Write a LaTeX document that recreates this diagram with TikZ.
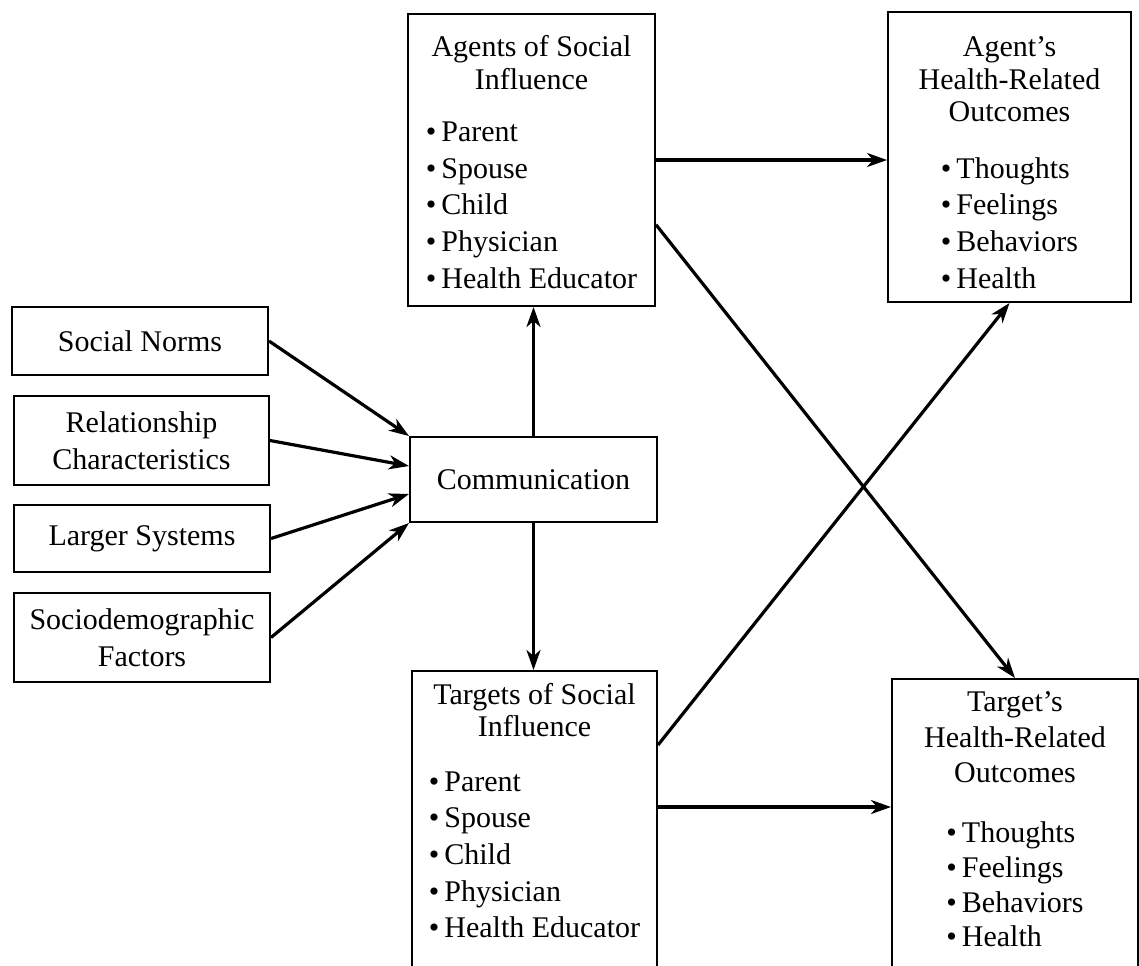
\documentclass[tikz,border=0pt]{standalone}
\usepackage{fontspec}
\setmainfont{Liberation Serif}
\usetikzlibrary{arrows.meta,calc}
\tikzset{
  box/.style={draw, line width=1pt, inner sep=0pt, align=center, font=\fontsize{15}{18.3}\selectfont},
  arr/.style={line width=1.6pt, -{Stealth[length=10pt,width=7pt,inset=3pt]}},
}
\newcommand{\itm}{\textbullet\,}
\newcommand{\ctr}[1]{\multicolumn{1}{@{}c@{}}{#1}}

\begin{document}
\begin{tikzpicture}[x=0.5pt,y=-0.5pt]
\useasboundingbox (0,0) rectangle (1139,965);
\fill[white] (0,0) rectangle (1139,965);
\clip (0,0) rectangle (1139,965);
% factors on the left
\node[box, minimum width=128pt, minimum height=34pt] (norms) at (140,341) {Social Norms};
\node[box, minimum width=127.5pt, minimum height=44.5pt] (relat) at (141.5,440.5) {Relationship\\Characteristics};
\node[box, minimum width=128pt, minimum height=33.5pt] (larger) at (142,538.5) {Larger Systems};
\node[box, minimum width=128pt, minimum height=44.5pt] (socio) at (142,637.5) {Sociodemographic\\Factors};
% communication
\node[box, minimum width=123.5pt, minimum height=42.5pt] (comm) at (533.5,479.5) {Communication};
% agents and targets
\node[box, minimum width=123.5pt, minimum height=146pt] (agents) at (531.5,160) {\begin{tabular}{@{}l@{}}
  \ctr{\rule{0pt}{17.8pt}Agents of Social}\\[-2pt] \ctr{Influence}\\[8pt]
  \itm Parent\\ \itm Spouse\\ \itm Child\\ \itm Physician\\ \itm Health Educator
\end{tabular}};
\node[box, anchor=north, minimum width=122.5pt, inner ysep=3.7pt] (targets) at (534.5,670) {\begin{tabular}{@{}l@{}}
  \ctr{Targets of Social}\\[-2pt] \ctr{Influence}\\[9pt]
  \itm Parent\\ \itm Spouse\\ \itm Child\\ \itm Physician\\ \itm Health Educator\\[30pt]
\end{tabular}};
% outcomes
\node[box, minimum width=121.5pt, minimum height=145pt] (agout) at (1009.5,157) {\begin{tabular}{@{}c@{}}
  \rule{0pt}{20.8pt}Agent’s\\[-2pt] Health-Related\\[-2pt] Outcomes\\[10pt]
  \begin{tabular}[t]{@{}l@{}}\itm Thoughts\\ \itm Feelings\\ \itm Behaviors\\ \itm Health\end{tabular}
\end{tabular}};
\node[box, anchor=north, minimum width=123pt, inner ysep=3.2pt] (tarout) at (1015,678) {\begin{tabular}{@{}c@{}}
  Target’s\\ Health-Related\\[-1pt] Outcomes\\[12pt]
  \begin{tabular}[t]{@{}l@{}}\itm Thoughts\\[-1pt] \itm Feelings\\[-1pt] \itm Behaviors\\[-1pt] \itm Health\\[30pt]\end{tabular}
\end{tabular}};
% arrows into communication
\draw[arr] (norms.east) -- (comm.north west);
\draw[arr] (relat.east) -- ($(comm.north west)+(0,30)$);
\draw[arr] (larger.east) -- ($(comm.north west)+(0,58)$);
\draw[arr] (socio.east) -- (comm.south west);
% communication to agents and targets
\draw[arr] (comm.north) -- (comm.north |- agents.south);
\draw[arr] (comm.south) -- (comm.south |- targets.north);
% to the outcomes
\draw[arr] (agents.east) -- (agents.east -| agout.west);
\draw[arr] ($(agents.south east)!0.28!(agents.north east)$) -- (tarout.north);
\draw[arr] ($(targets.north east)+(0,75)$) -- (agout.south);
\draw[arr] ($(targets.north east)+(0,137)$) coordinate (tt) -- (tt -| tarout.west);
\end{tikzpicture}
\end{document}
